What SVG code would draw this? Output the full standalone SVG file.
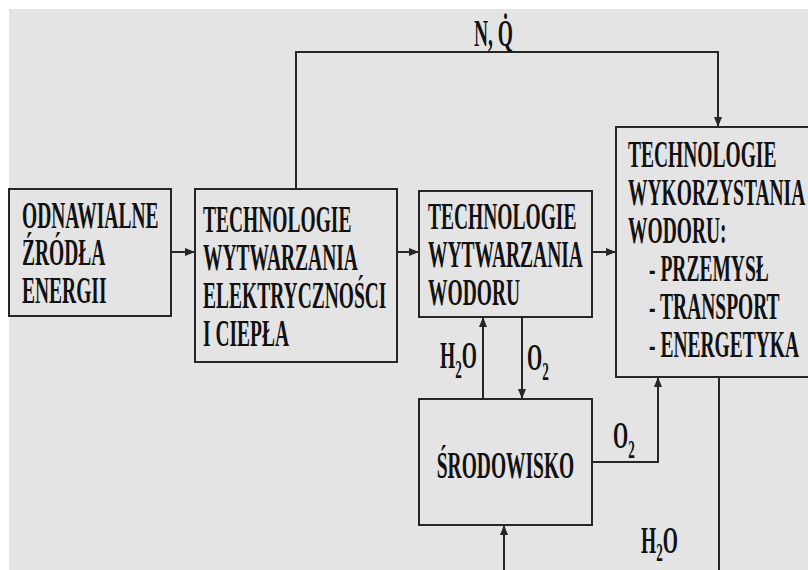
<svg xmlns="http://www.w3.org/2000/svg" width="808" height="570" viewBox="0 0 808 570">
<style>
.bg{fill:#e4e4e4}
.box{fill:#e4e4e4;stroke:#262626;stroke-width:2}
.ln{fill:none;stroke:#262626;stroke-width:2}
.t{font-family:"Liberation Serif","Times New Roman",serif;font-weight:bold;font-size:37px;fill:#111}
.s{font-size:25px}
</style>
<defs>
<marker id="ah" markerUnits="userSpaceOnUse" markerWidth="10" markerHeight="8" refX="10" refY="4" orient="auto">
<path d="M0,0 L10,4 L0,8 z" fill="#262626"/>
</marker>
</defs>
<rect x="0" y="0" width="808" height="570" fill="#ffffff"/>
<rect class="bg" x="9" y="9" width="799" height="561"/>

<g id="connectors">
<line class="ln" x1="171" y1="252" x2="195" y2="252" marker-end="url(#ah)"/>
<line class="ln" x1="397" y1="252" x2="419" y2="252" marker-end="url(#ah)"/>
<line class="ln" x1="592" y1="252" x2="616" y2="252" marker-end="url(#ah)"/>
<polyline class="ln" points="296,189 296,52 718,52 718,127" marker-end="url(#ah)"/>
<line class="ln" x1="483" y1="399" x2="483" y2="317" marker-end="url(#ah)"/>
<line class="ln" x1="522" y1="317" x2="522" y2="399" marker-end="url(#ah)"/>
<polyline class="ln" points="592,462 658,462 658,377" marker-end="url(#ah)"/>
<line class="ln" x1="719" y1="377" x2="719" y2="572"/>
<line class="ln" x1="504" y1="572" x2="504" y2="525" marker-end="url(#ah)"/>
</g>

<g id="labels">
<text class="t" transform="translate(474,46) scale(0.527,1)">N, Q&#775;</text>
<text class="t" transform="translate(440,368) scale(0.527,1)">H<tspan class="s" dy="10">2</tspan><tspan dy="-10">O</tspan></text>
<text class="t" transform="translate(527,370) scale(0.527,1)">O<tspan class="s" dy="10">2</tspan></text>
<text class="t" transform="translate(613,448) scale(0.527,1)">O<tspan class="s" dy="10">2</tspan></text>
<text class="t" transform="translate(641,553) scale(0.527,1)">H<tspan class="s" dy="8">2</tspan><tspan dy="-8">O</tspan></text>
</g>

<g id="odnawialne">
<rect class="box" x="9" y="189" width="162" height="127"/>
<text class="t" transform="translate(22,228) scale(0.527,1)"><tspan x="0" y="0">ODNAWIALNE</tspan><tspan x="0" y="37.5">ŹRÓDŁA</tspan><tspan x="0" y="75">ENERGII</tspan></text>
</g>

<g id="tech-elektr">
<rect class="box" x="195" y="189" width="202" height="173"/>
<text class="t" transform="translate(203,232) scale(0.527,1)"><tspan x="0" y="0">TECHNOLOGIE</tspan><tspan x="0" y="38">WYTWARZANIA</tspan><tspan x="0" y="76">ELEKTRYCZNOŚCI</tspan><tspan x="0" y="114">I CIEPŁA</tspan></text>
</g>

<g id="tech-wodor">
<rect class="box" x="419" y="191" width="173" height="126"/>
<text class="t" transform="translate(428,229) scale(0.527,1)"><tspan x="0" y="0">TECHNOLOGIE</tspan><tspan x="0" y="38">WYTWARZANIA</tspan><tspan x="0" y="76">WODORU</tspan></text>
</g>

<g id="wykorzystanie">
<rect class="box" x="616" y="127" width="210" height="250"/>
<text class="t" transform="translate(628,167) scale(0.527,1)"><tspan x="0" y="0">TECHNOLOGIE</tspan><tspan x="0" y="38">WYKORZYSTANIA</tspan><tspan x="0" y="76">WODORU:</tspan><tspan x="40" y="114">- PRZEMYSŁ</tspan><tspan x="40" y="152">- TRANSPORT</tspan><tspan x="40" y="190">- ENERGETYKA</tspan></text>
</g>

<g id="srodowisko">
<rect class="box" x="419" y="399" width="173" height="126"/>
<text class="t" text-anchor="middle" transform="translate(505.5,478) scale(0.527,1)">ŚRODOWISKO</text>
</g>
</svg>
